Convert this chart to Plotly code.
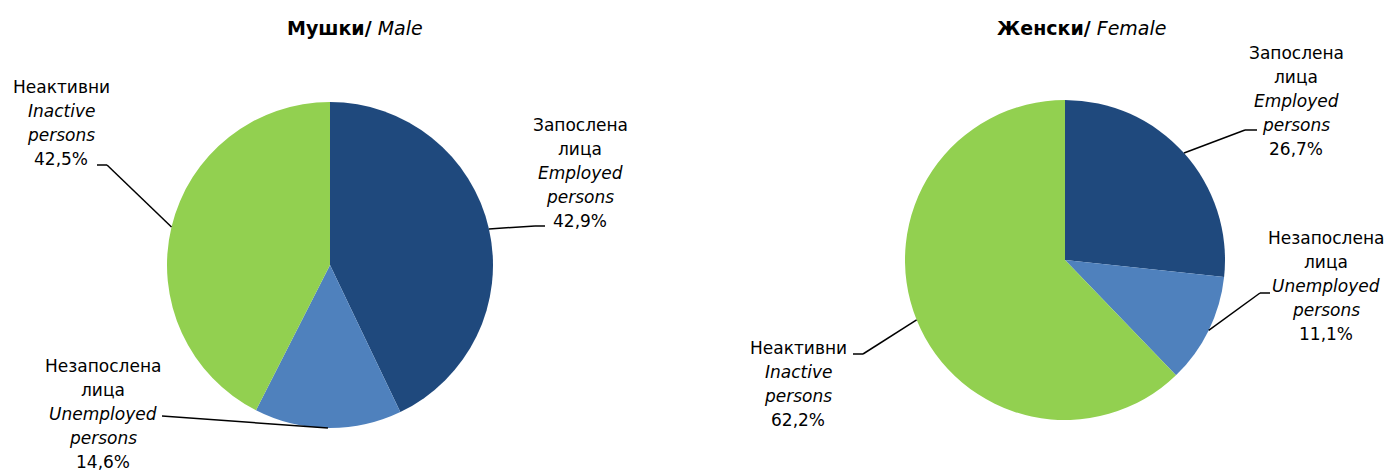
import math

import plotly.graph_objects as go

# the page puts the plot 8px in from the top-left corner
PAGE_OFF = 8
W, H = 1394 - PAGE_OFF, 476 - PAGE_OFF

# data
labels_mk = ["Запослена лица", "Незапослена лица", "Неактивни"]
labels_en = ["Employed persons", "Unemployed persons", "Inactive persons"]
male = [42.9, 14.6, 42.5]
female = [26.7, 11.1, 62.2]
pct_male = ["42,9%", "14,6%", "42,5%"]
pct_female = ["26,7%", "11,1%", "62,2%"]

COLORS = ["#1F497D", "#4F81BD", "#92D050"]
FONT = "DejaVu Sans"

# pie geometry in screen px: (cx, cy, r)
PIES = {
    "male": (330, 265, 163),
    "female": (1065, 260, 160),
}
TITLE_POS = {"male": (355, 28), "female": (1081, 28)}

# label layout: first-line centre, and leader elbow / stub end (screen px)
LABEL_POS = {
    "male": [(580, 125), (103, 366), (61, 87)],
    "female": [(1296, 53), (1326, 238), (798, 348)],
}
LEADERS = {
    "male": [[(535, 226), (545, 226)], [(162, 416)], [(107, 165), (97, 165)]],
    "female": [[(1245, 130), (1257, 130)], [(1260, 293), (1270, 293)], [(863, 354), (853, 354)]],
}
LINE_STEP = 24


def px(x, y):
    return (x - PAGE_OFF) / W, 1 - (y - PAGE_OFF) / H


fig = go.Figure()
annotations = []
shapes = []

for key, values, pcts, title in [
    ("male", male, pct_male, "<b>Мушки/</b> <i>Male</i>"),
    ("female", female, pct_female, "<b>Женски/</b> <i>Female</i>"),
]:
    cx, cy, r = PIES[key]
    x0, y1 = px(cx - r, cy - r)
    x1, y0 = px(cx + r, cy + r)
    fig.add_trace(
        go.Pie(
            labels=labels_en,
            values=values,
            sort=False,
            direction="clockwise",
            rotation=0,
            textinfo="none",
            marker=dict(colors=COLORS, line=dict(width=0)),
            domain=dict(x=[x0, x1], y=[y0, y1]),
            showlegend=False,
            hoverinfo="label+percent",
        )
    )

    x, y = px(*TITLE_POS[key])
    annotations.append(
        dict(
            text=title, x=x, y=y, xref="paper", yref="paper", showarrow=False,
            xanchor="center", yanchor="middle",
            font=dict(family=FONT, size=19, color="black"),
        )
    )

    total = sum(values)
    cum = 0
    for i, v in enumerate(values):
        mid = (cum + v / 2) / total * 2 * math.pi
        cum += v
        ex = cx + r * math.sin(mid)
        ey = cy - r * math.cos(mid)
        pts = [(ex, ey)] + LEADERS[key][i]
        for (xa, ya), (xb, yb) in zip(pts[:-1], pts[1:]):
            a0, b0 = px(xa, ya)
            a1, b1 = px(xb, yb)
            shapes.append(
                dict(type="line", xref="paper", yref="paper",
                     x0=a0, y0=b0, x1=a1, y1=b1,
                     line=dict(color="black", width=1.5))
            )

        lines = labels_mk[i].split(" ")
        lines += ["<i>" + w + "</i>" for w in labels_en[i].split(" ")]
        lines.append(pcts[i])
        lx, ly = LABEL_POS[key][i]
        for j, t in enumerate(lines):
            x, y = px(lx, ly + j * LINE_STEP)
            annotations.append(
                dict(
                    text=t, x=x, y=y, xref="paper", yref="paper", showarrow=False,
                    xanchor="center", yanchor="middle",
                    font=dict(family=FONT, size=17, color="black"),
                )
            )

fig.update_layout(
    width=W,
    height=H,
    margin=dict(l=0, r=0, t=0, b=0),
    paper_bgcolor="white",
    plot_bgcolor="white",
    annotations=annotations,
    shapes=shapes,
)

fig.write_html("out.html")
